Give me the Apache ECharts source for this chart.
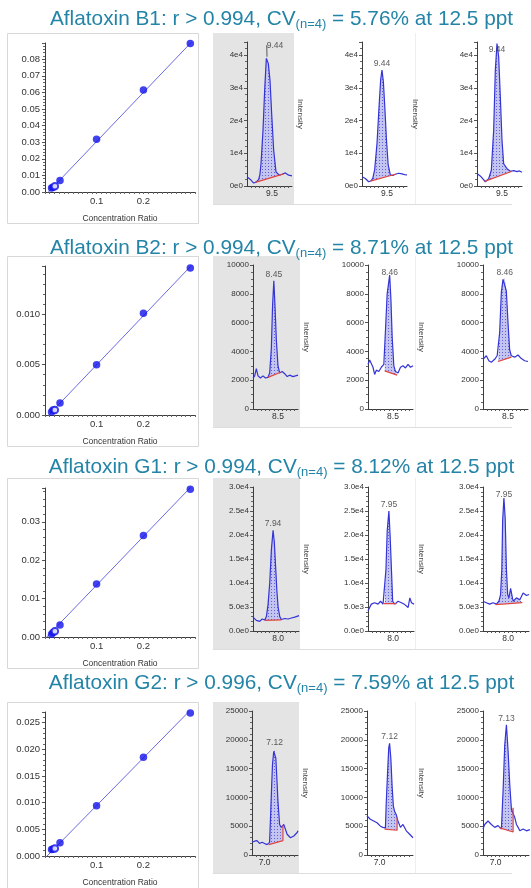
<!DOCTYPE html>
<html>
<head>
<meta charset="utf-8">
<script src="https://cdn.jsdelivr.net/npm/echarts@6/dist/echarts.min.js"></script>
<style>
html,body{margin:0;padding:0;background:#fff;}
#chart{width:531px;height:888px;}
</style>
</head>
<body>
<div id="chart"></div>
<script>
// ---- analytes and headline figures ----
const analytes = ['B1', 'B2', 'G1', 'G2'];
const rValues = ['0.994', '0.994', '0.994', '0.996'];
const cvValues = ['5.76', '8.71', '8.12', '7.59'];
const spikeLevel = '12.5';

// ---- calibration: [concentration ratio, response ratio] ----
const calB1 = [[0.004, 0.0024], [0.007, 0.0029], [0.022, 0.0069], [0.1, 0.0318], [0.2, 0.0615], [0.3, 0.0895]];
const calB1Open = [[0.011, 0.0034]];
const calB2 = [[0.004, 0.0003], [0.007, 0.0005], [0.022, 0.0012], [0.1, 0.0050], [0.2, 0.0101], [0.3, 0.0146]];
const calB2Open = [[0.011, 0.0005]];
const calG1 = [[0.004, 0.0007], [0.007, 0.0012], [0.022, 0.0031], [0.1, 0.0138], [0.2, 0.0264], [0.3, 0.0385]];
const calG1Open = [[0.011, 0.0015]];
const calG2 = [[0.004, 0.0012], [0.007, 0.0013], [0.022, 0.0025], [0.1, 0.0094], [0.2, 0.0185], [0.3, 0.0268]];
const calG2Open = [[0.011, 0.0014]];

// regression lines (slope, intercept)
const fitSlope = [0.296, 0.0488, 0.127, 0.0895];
const fitIntercept = [0.0008, 0.0001, 0.0008, 0.0005];

// calibration y-axis ranges and tick steps
const calYMax = [0.0898, 0.0148, 0.0388, 0.0270];
const calYStep = [0.01, 0.005, 0.01, 0.005];
const calYDecimals = [2, 3, 2, 3];
const calXTicks = [0.1, 0.2];

// ---- chromatograms: [retention time (min), intensity] ----
const trB1a = [[9.20,2800],[9.24,2000],[9.28,900],[9.31,1200],[9.34,2000],[9.355,3500],[9.368,6800],[9.392,17000],[9.412,29300],[9.432,39000],[9.44,39500],[9.456,37400],[9.476,32300],[9.496,22100],[9.52,10900],[9.548,4300],[9.588,3300],[9.62,3600],[9.66,4000],[9.70,3300],[9.74,3100]];
const trB1b = [[9.20,2800],[9.24,2300],[9.28,1300],[9.31,1600],[9.33,2400],[9.352,5000],[9.38,13000],[9.404,24000],[9.424,32500],[9.44,35400],[9.456,32000],[9.474,24000],[9.494,14000],[9.514,6500],[9.54,3400],[9.57,3200],[9.60,3600],[9.64,3900],[9.68,3700],[9.71,3500],[9.74,3400]];
const trB1c = [[9.20,3800],[9.25,2800],[9.30,1300],[9.34,2200],[9.372,4800],[9.40,17000],[9.42,35400],[9.44,43500],[9.46,39500],[9.48,27200],[9.50,14000],[9.52,6800],[9.56,5300],[9.60,4500],[9.64,4700],[9.68,4400],[9.71,4600],[9.74,4200]];
const baseB1a = [[9.30,1100],[9.64,3700]];
const baseB1b = [[9.30,1500],[9.60,3600]];
const baseB1c = [[9.29,1400],[9.62,4500]];

const trB2a = [[8.20,2150],[8.22,2300],[8.24,2800],[8.26,2300],[8.29,2150],[8.32,2300],[8.35,2150],[8.38,2200],[8.40,2500],[8.42,4200],[8.435,7200],[8.45,8900],[8.465,7000],[8.48,4800],[8.50,3000],[8.52,2500],[8.55,2600],[8.58,2450],[8.61,2250],[8.64,2350],[8.68,2250],[8.71,2300],[8.74,2350]];
const trB2b = [[8.20,3100],[8.22,3400],[8.24,3300],[8.26,2900],[8.28,2400],[8.30,2700],[8.33,2600],[8.36,2900],[8.39,3100],[8.41,5500],[8.43,8000],[8.46,9300],[8.475,7600],[8.49,5000],[8.51,3000],[8.53,2600],[8.56,2500],[8.59,2900],[8.62,3000],[8.65,2850],[8.68,3100],[8.71,2900],[8.74,3000]];
const trB2c = [[8.20,3450],[8.24,3700],[8.27,3350],[8.30,3250],[8.34,3450],[8.37,3700],[8.40,5300],[8.42,8100],[8.44,9000],[8.46,9100],[8.48,8200],[8.50,6000],[8.52,4100],[8.54,3700],[8.58,3600],[8.62,3750],[8.66,3500],[8.70,3350],[8.74,3300]];
const baseB2a = [[8.38,2200],[8.53,2550]];
const baseB2b = [[8.40,2650],[8.55,2350]];
const baseB2c = [[8.38,3300],[8.54,3600]];

const trG1a = [[7.70,2900],[7.74,2200],[7.78,2000],[7.81,2500],[7.84,2300],[7.86,3000],[7.88,5500],[7.90,10000],[7.92,17000],[7.94,21000],[7.955,18500],[7.97,13500],[7.985,8500],[8.00,5000],[8.02,3000],[8.04,2400],[8.08,2600],[8.12,2500],[8.16,2700],[8.20,2900],[8.25,3200]];
const trG1b = [[7.70,4200],[7.74,5600],[7.78,5900],[7.82,5600],[7.85,6200],[7.88,5600],[7.90,5700],[7.915,12900],[7.93,21000],[7.95,25000],[7.965,19600],[7.98,12900],[7.995,6200],[8.02,5600],[8.06,6200],[8.10,5900],[8.14,5500],[8.18,4900],[8.20,6900],[8.22,5900],[8.25,5600]];
const trG1c = [[7.70,6200],[7.74,5900],[7.78,5600],[7.82,5900],[7.86,5600],[7.89,6200],[7.91,7600],[7.925,12900],[7.935,23000],[7.95,27700],[7.965,23600],[7.98,12900],[7.995,7600],[8.01,6900],[8.03,8900],[8.06,6200],[8.10,6900],[8.14,6500],[8.18,7900],[8.22,7400],[8.25,7600]];
const baseG1a = [[7.84,2200],[8.04,2300]];
const baseG1b = [[7.89,5700],[8.04,5700]];
const baseG1c = [[7.85,5500],[8.17,5900]];

const trG2a = [[6.85,2200],[6.88,2400],[6.91,2500],[6.94,2000],[6.97,2200],[7.00,2000],[7.03,1800],[7.06,2200],[7.07,5900],[7.085,12000],[7.095,15700],[7.11,18000],[7.12,18300],[7.135,16800],[7.15,12500],[7.16,9400],[7.18,5300],[7.20,4800],[7.23,5300],[7.27,3600],[7.31,3000],[7.35,3300],[7.39,3900],[7.40,4200]];
const trG2b = [[6.85,6800],[6.89,6200],[6.93,5900],[6.97,5600],[7.01,5000],[7.04,4800],[7.07,4700],[7.08,9000],[7.095,14000],[7.11,18600],[7.12,19400],[7.135,16800],[7.15,12000],[7.165,8500],[7.18,7600],[7.20,7000],[7.22,5900],[7.25,4800],[7.28,5300],[7.32,4200],[7.36,3600],[7.40,3000]];
const trG2c = [[6.85,4500],[6.87,5300],[6.91,5900],[6.95,5300],[6.99,4800],[7.03,5100],[7.07,4500],[7.09,11100],[7.11,19100],[7.13,22600],[7.15,18000],[7.17,12200],[7.19,7900],[7.21,8200],[7.23,6500],[7.25,5300],[7.27,4800],[7.29,4200],[7.33,4500],[7.37,4200],[7.41,4400]];
const baseG2a = [[7.05,1800],[7.22,2500],[7.22,5100]];
const baseG2b = [[7.06,4500],[7.21,4300],[7.21,6500]];
const baseG2c = [[7.05,4700],[7.21,4000],[7.21,8200]];

// apex retention times printed above each peak
const rtB1 = [9.44, 9.44, 9.44];
const rtB2 = [8.45, 8.46, 8.46];
const rtG1 = [7.94, 7.95, 7.95];
const rtG2 = [7.12, 7.12, 7.13];

// time axis ranges and the single labelled time
const chromXMin = [9.2, 8.2, 7.7, 6.85];
const chromXMax = [9.74, 8.74, 8.25, 7.40];
const chromXLabel = [9.5, 8.5, 8.0, 7.0];
// intensity axis ranges
const chromYMax = [44000, 10000, 30000, 25000];
const chromYStep = [10000, 2000, 5000, 5000];

const traces = [[trB1a, trB1b, trB1c], [trB2a, trB2b, trB2c], [trG1a, trG1b, trG1c], [trG2a, trG2b, trG2c]];
const baselines = [[baseB1a, baseB1b, baseB1c], [baseB2a, baseB2b, baseB2c], [baseG1a, baseG1b, baseG1c], [baseG2a, baseG2b, baseG2c]];
const apexRT = [rtB1, rtB2, rtG1, rtG2];
const calPoints = [calB1, calB2, calG1, calG2];
const calOpenPoints = [calB1Open, calB2Open, calG1Open, calG2Open];

// ---- layout ----
const rowTop = [33, 256, 478, 702];
const titleY = [19, 248, 467, 683];
const chromLeft = [[247, 362, 477], [253, 368, 483], [253, 368, 483], [252, 367, 483]];
const chromWidth = [45, 45, 46, 46];

const font = '"Liberation Sans", Arial, sans-serif';
const titleColor = '#2484a7';
const axisColor = '#3c3c3c';
const traceColor = '#3434d6';
const baseColor = '#e0463f';
const dotColor = '#1212ea';

// dotted fill used under the integrated peaks
const hatchCanvas = document.createElement('canvas');
hatchCanvas.width = 3; hatchCanvas.height = 3;
const hctx = hatchCanvas.getContext('2d');
hctx.fillStyle = '#c4c4f0'; hctx.fillRect(0, 0, 3, 3);
hctx.fillStyle = '#6262d4'; hctx.fillRect(1, 1, 1, 1);
const hatch = { image: hatchCanvas, repeat: 'repeat' };

const grids = [], xAxes = [], yAxes = [], series = [], graphics = [];

function expLabel(v, digits) {
  return v.toExponential(digits).replace('+', '');
}
const chromYFormat = [
  v => expLabel(v, 0),
  v => String(Math.round(v)),
  v => expLabel(v, 1),
  v => String(Math.round(v))
];

analytes.forEach((name, r) => {
  const T = rowTop[r];

  // panel title
  graphics.push({
    type: 'text', x: 281.5, y: titleY[r], z: 30,
    style: {
      text: '{m|Aflatoxin ' + name + ': r > ' + rValues[r] + ', CV}{s|(n=4)}{m| = ' + cvValues[r] + '% at ' + spikeLevel + ' ppt}',
      align: 'center', verticalAlign: 'middle',
      rich: {
        m: { fontSize: 20.8, fontFamily: font, fill: titleColor, lineHeight: 24 },
        s: { fontSize: 13, fontFamily: font, fill: titleColor, lineHeight: 9, verticalAlign: 'bottom' }
      }
    }
  });

  // calibration frame
  graphics.push({ type: 'rect', z: -5, shape: { x: 7.5, y: T + 0.5, width: 191, height: 190 },
    style: { fill: '#fff', stroke: '#d8d8d8', lineWidth: 1 } });
  // shaded first chromatogram and row rules
  const grayRight = chromLeft[r][0] + 47;
  graphics.push({ type: 'rect', z: -5, shape: { x: 213, y: T, width: grayRight - 213, height: 171 },
    style: { fill: '#e4e4e4' } });
  graphics.push({ type: 'line', z: -5, shape: { x1: 213, y1: T + 171.5, x2: 512, y2: T + 171.5 },
    style: { stroke: '#dddddd', lineWidth: 1 } });
  graphics.push({ type: 'line', z: -5, shape: { x1: 415.5, y1: T, x2: 415.5, y2: T + 171 },
    style: { stroke: '#eeeeee', lineWidth: 1 } });

  // ---- calibration plot ----
  const gi = grids.length;
  grids.push({ left: 45, top: T + 10, width: 150, height: 149 });
  xAxes.push({
    gridIndex: gi, type: 'value', min: -0.01, max: 0.31, interval: 0.01,
    axisLine: { show: true, onZero: false, lineStyle: { color: axisColor, width: 1 } },
    axisTick: { show: true, length: 2, lineStyle: { color: '#666' } },
    splitLine: { show: false },
    axisLabel: {
      fontSize: 9.5, color: '#333', fontFamily: font, margin: 4,
      formatter: v => { const t = calXTicks.find(c => Math.abs(c - v) < 1e-6); return t !== undefined ? t.toFixed(1) : ''; }
    },
    name: 'Concentration Ratio', nameLocation: 'middle', nameGap: 22,
    nameTextStyle: { fontSize: 8.5, color: '#333', fontFamily: font }
  });
  yAxes.push({
    gridIndex: gi, type: 'value', min: 0, max: calYMax[r], interval: calYStep[r],
    axisLine: { show: true, onZero: false, lineStyle: { color: axisColor, width: 1 } },
    axisTick: { show: true, length: 3, lineStyle: { color: '#555' } },
    minorTick: { show: true, splitNumber: 5, length: 2, lineStyle: { color: '#666' } },
    splitLine: { show: false }, minorSplitLine: { show: false },
    axisLabel: { fontSize: 9.5, color: '#333', fontFamily: font, margin: 5, showMaxLabel: false,
      formatter: v => v.toFixed(calYDecimals[r]) }
  });
  const lx = [-0.01, 0.31];
  series.push({ type: 'line', xAxisIndex: gi, yAxisIndex: gi, silent: true, z: 2, clip: true,
    data: lx.map(x => [x, fitIntercept[r] + fitSlope[r] * x]),
    symbol: 'none', lineStyle: { color: '#6a6ae2', width: 1 } });
  series.push({ type: 'scatter', xAxisIndex: gi, yAxisIndex: gi, silent: true, z: 3,
    data: calPoints[r], symbol: 'circle', symbolSize: 7.5, itemStyle: { color: dotColor } });
  series.push({ type: 'scatter', xAxisIndex: gi, yAxisIndex: gi, silent: true, z: 3,
    data: calOpenPoints[r], symbol: 'emptyCircle', symbolSize: 6.5,
    itemStyle: { color: dotColor, borderWidth: 1.3 } });

  // ---- three replicate chromatograms ----
  for (let c = 0; c < 3; c++) {
    const ci = grids.length;
    grids.push({ left: chromLeft[r][c], top: T + 9, width: chromWidth[r], height: 144 });
    xAxes.push({
      gridIndex: ci, type: 'value', min: chromXMin[r], max: chromXMax[r], interval: 0.05,
      axisLine: { show: true, onZero: false, lineStyle: { color: axisColor, width: 1 } },
      axisTick: { show: true, length: 2, lineStyle: { color: '#555' } },
      splitLine: { show: false },
      axisLabel: { fontSize: 8.5, color: '#333', fontFamily: font, margin: 3, showMaxLabel: false, showMinLabel: false,
        formatter: v => Math.abs(v - chromXLabel[r]) < 1e-6 ? chromXLabel[r].toFixed(1) : '' }
    });
    yAxes.push({
      gridIndex: ci, type: 'value', min: 0, max: chromYMax[r], interval: chromYStep[r],
      axisLine: { show: true, onZero: false, lineStyle: { color: axisColor, width: 1 } },
      axisTick: { show: true, length: 3, lineStyle: { color: '#555' } },
      minorTick: { show: true, splitNumber: r === 1 ? 4 : 5, length: 2, lineStyle: { color: '#666' } },
      splitLine: { show: false }, minorSplitLine: { show: false },
      axisLabel: { fontSize: 8, color: '#333', fontFamily: font, margin: 4, showMaxLabel: r !== 0,
        formatter: chromYFormat[r] },
      name: c > 0 ? 'Intensity' : '', nameLocation: 'middle', nameGap: 58, nameRotate: -90,
      nameTextStyle: { fontSize: 8, color: '#444', fontFamily: font }
    });

    const trace = traces[r][c];
    const base = baselines[r][c];
    const t0 = base[0][0], t1 = base[1][0];
    const inner = trace.filter(p => p[0] > t0 && p[0] < t1);
    const poly = [base[0]].concat(inner, base.slice(1).reverse());

    // integrated area
    series.push({
      type: 'custom', xAxisIndex: ci, yAxisIndex: ci, silent: true, z: 2, clip: true,
      data: [poly[0]],
      renderItem: (params, api) => ({
        type: 'polygon',
        shape: { points: poly.map(p => api.coord(p)) },
        style: { fill: hatch, stroke: null }
      })
    });
    // signal trace
    series.push({ type: 'line', xAxisIndex: ci, yAxisIndex: ci, silent: true, z: 4, clip: true,
      data: trace, symbol: 'none', lineStyle: { color: traceColor, width: 1.2 } });
    // integration baseline
    series.push({ type: 'line', xAxisIndex: ci, yAxisIndex: ci, silent: true, z: 5, clip: true,
      data: base, symbol: 'none', lineStyle: { color: baseColor, width: 1.2 } });
    // apex retention time label (the first B1 trace carries a leader line)
    const rt = apexRT[r][c];
    const apex = Math.max.apply(null, trace.map(p => p[1]));
    const lead = r === 0 && c === 0;
    series.push({ type: 'scatter', xAxisIndex: ci, yAxisIndex: ci, silent: true, z: 6,
      data: [[rt, Math.min(apex, chromYMax[r] * 0.9)]], symbolSize: 0,
      label: { show: true, position: 'top', distance: 2, fontSize: 8.5, color: '#333', fontFamily: font,
        formatter: () => rt.toFixed(2) },
      labelLayout: lead ? { dx: 8, dy: -5 } : undefined,
      labelLine: lead ? { show: true, length2: 0, lineStyle: { color: '#333', width: 0.8 } } : undefined
    });
  }
});

const chart = echarts.init(document.getElementById('chart'), null, { renderer: 'canvas' });
chart.setOption({
  animation: false,
  backgroundColor: '#fff',
  grid: grids,
  xAxis: xAxes,
  yAxis: yAxes,
  graphic: { elements: graphics },
  series: series
});
</script>
</body>
</html>
